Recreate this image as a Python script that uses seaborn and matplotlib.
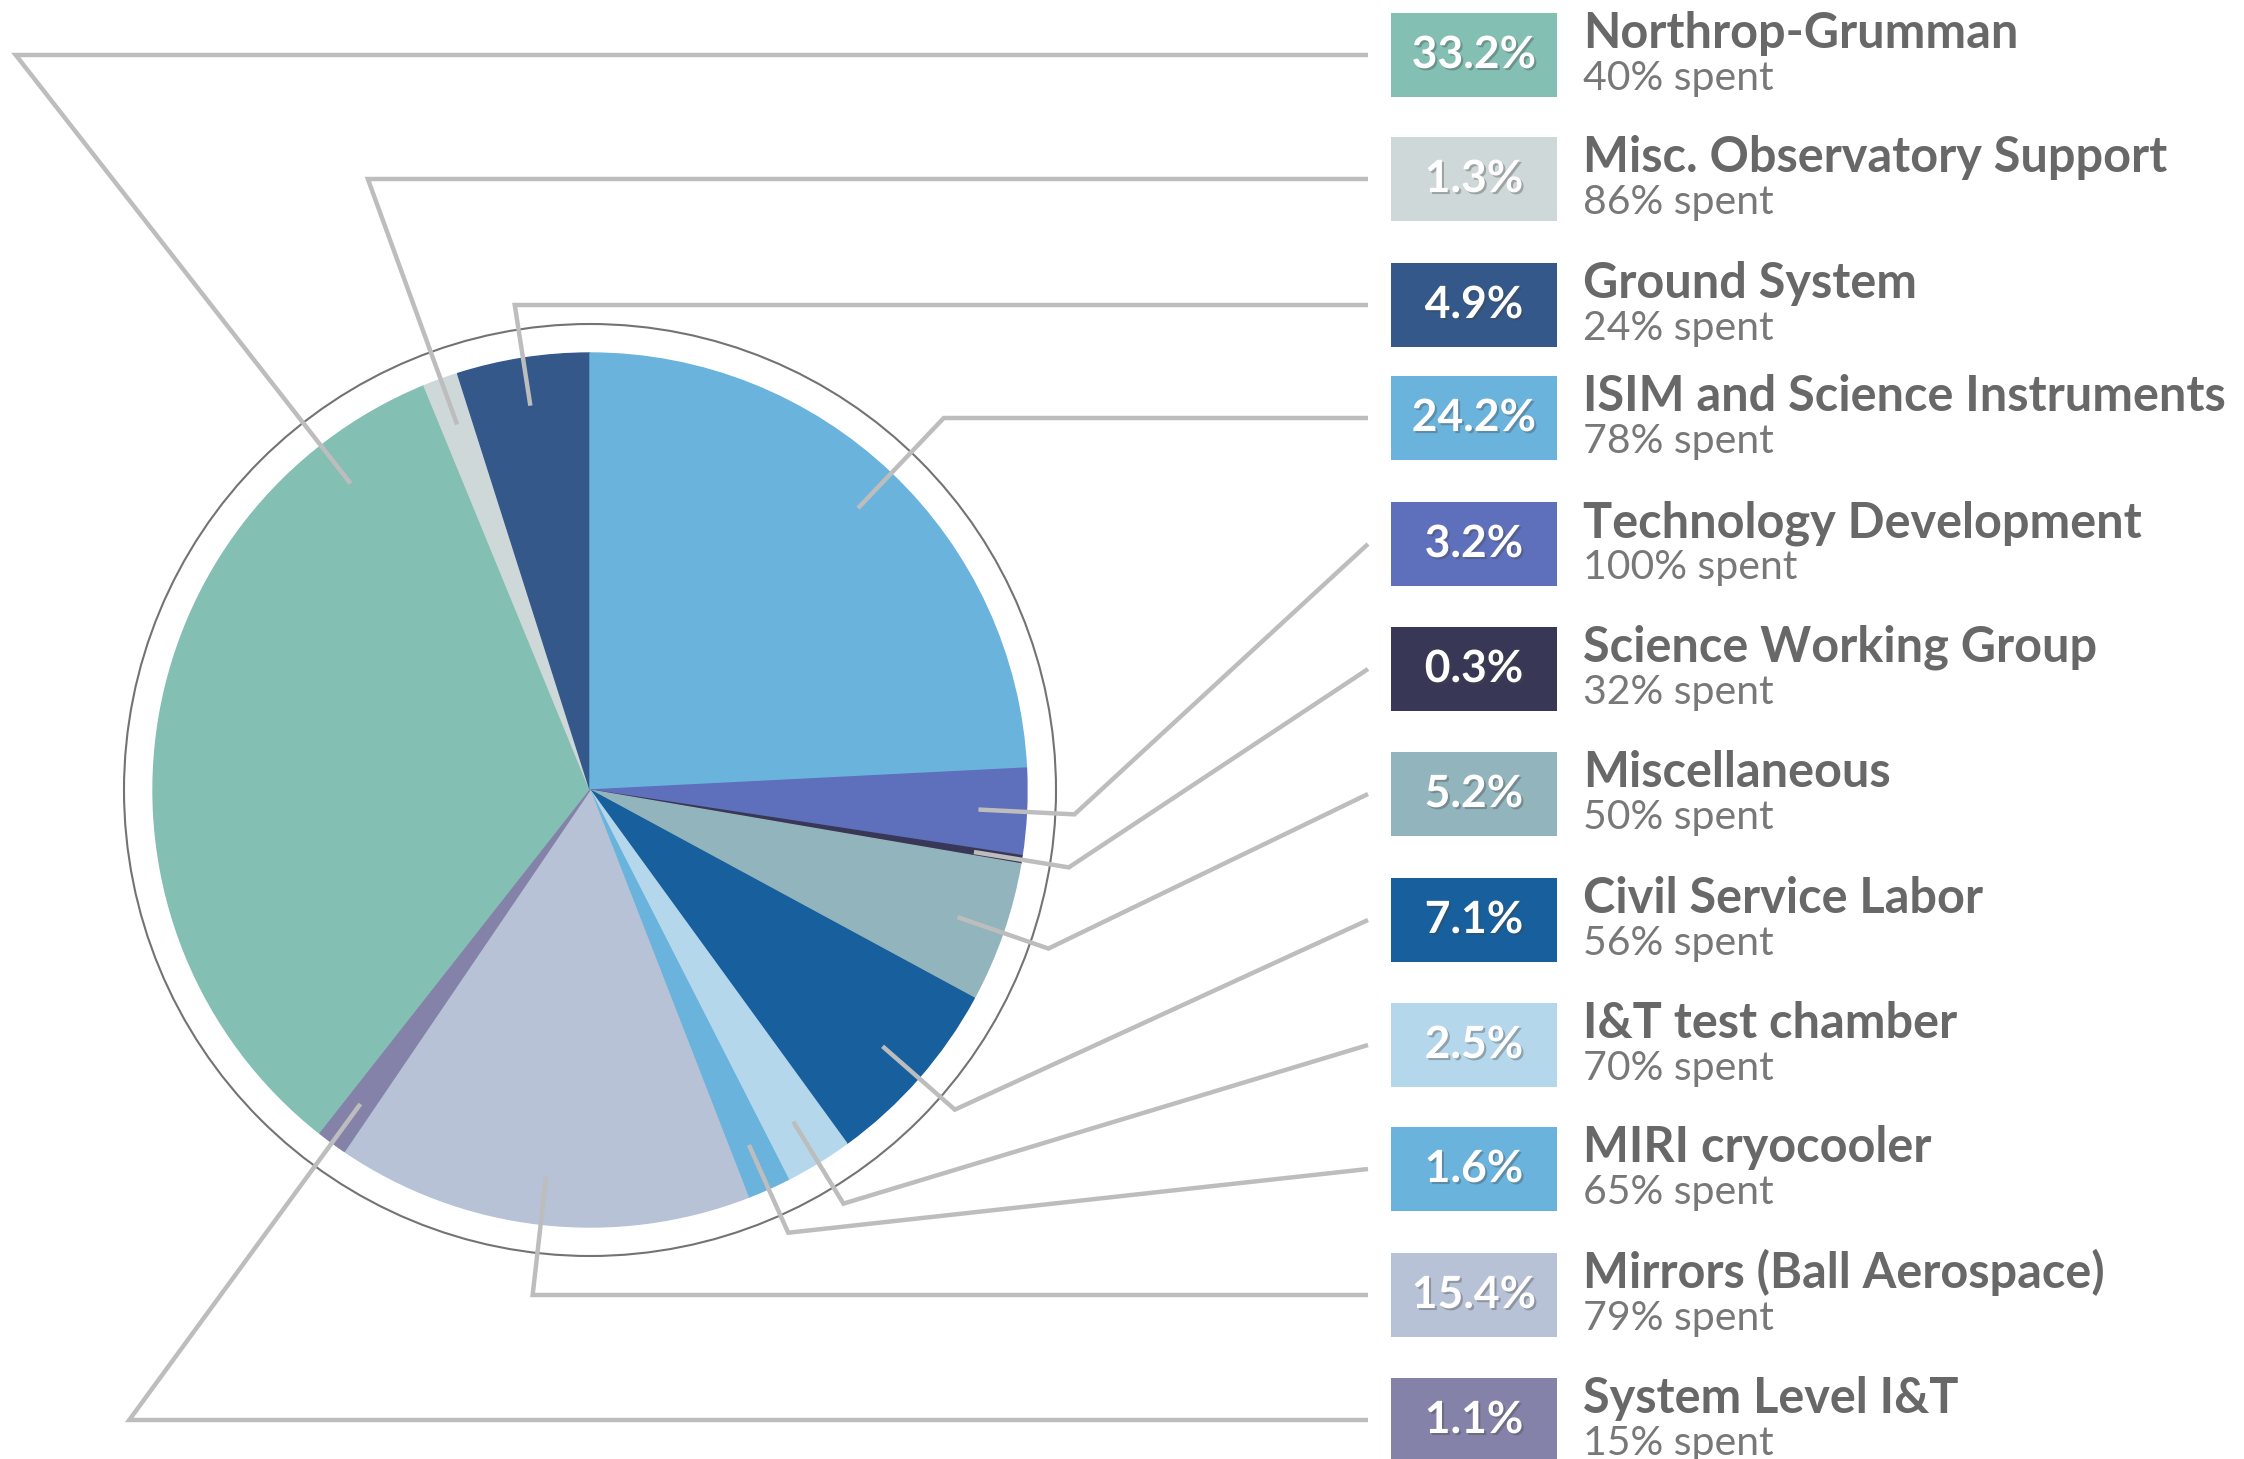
import matplotlib
matplotlib.use('Agg')
import matplotlib.pyplot as plt
import matplotlib.patheffects as pe
from matplotlib.patches import Circle, Rectangle
import numpy as np
import seaborn as sns

sns.set_theme(style='white')
plt.rcParams['font.family'] = ['Lato', 'DejaVu Sans']

# budget elements, in legend order (top to bottom)
names = ['Northrop-Grumman', 'Misc. Observatory Support', 'Ground System',
         'ISIM and Science Instruments', 'Technology Development',
         'Science Working Group', 'Miscellaneous', 'Civil Service Labor',
         'I&T test chamber', 'MIRI cryocooler', 'Mirrors (Ball Aerospace)',
         'System Level I&T']
share = [33.2, 1.3, 4.9, 24.2, 3.2, 0.3, 5.2, 7.1, 2.5, 1.6, 15.4, 1.1]
spent = [40, 86, 24, 78, 100, 32, 50, 56, 70, 65, 79, 15]
colors = ['#84bfb3', '#cfd8d8', '#34588a', '#6ab3dc', '#5e6fbb', '#383856',
          '#92b4bd', '#175f9d', '#b5d7eb', '#6ab3dc', '#b7c2d6', '#8582a9']
palette = sns.color_palette(colors)

# layout (pixels, y measured from the top)
W, H = 2244, 1459
cx, cy, R = 590, H - 790, 437
ring_r = 466
row_y = [55, 179, 305, 418, 544, 669, 794, 920, 1045, 1169, 1295, 1420]
box_x, box_w, box_h = 1391, 166, 84
line_end = 1368
text_x = 1583
anchor_override = {0: 128}  # Northrop leader leaves the wedge up-left
line_col = '#bdbdbd'

fig = plt.figure(figsize=(W / 100, H / 100), dpi=100)
ax = fig.add_axes([0, 0, 1, 1])

# ISIM starts at 12 o'clock, wedges run clockwise
start = 90 + 3.6 * sum(share[:3])
wedges, _ = ax.pie(share, colors=palette, startangle=start, counterclock=False,
                   radius=R, center=(cx, cy), wedgeprops=dict(linewidth=1))
for w in wedges:
    w.set_edgecolor(w.get_facecolor())
ax.add_patch(Circle((cx, cy), ring_r, fill=False, ec='#737373', lw=1.5, zorder=2))

ax.set_xlim(0, W)
ax.set_ylim(0, H)
ax.set_aspect('auto')
ax.axis('off')

### LEADER LINES ###
for i, w in enumerate(wedges):
    ang = np.deg2rad(anchor_override.get(i, (w.theta1 + w.theta2) / 2))
    ux, uy = np.cos(ang), np.sin(ang)
    ry = H - row_y[i]
    x0, y0 = cx + 0.89 * R * ux, cy + 0.89 * R * uy
    t = (ry - cy) / uy if abs(uy) > 1e-6 else -1
    if t >= 1.1 * R:
        pts = [(x0, y0), (cx + t * ux, ry), (line_end, ry)]
    else:
        pts = [(x0, y0), (cx + 1.11 * R * ux, cy + 1.11 * R * uy), (line_end, ry)]
    xs, ys = zip(*pts)
    ax.plot(xs, ys, color=line_col, lw=3.2, solid_joinstyle='miter',
            solid_capstyle='butt', zorder=3)

### LEGEND BOXES ###
shadow = [pe.withSimplePatchShadow(offset=(1.5, -1.5), shadow_rgbFace='#444444', alpha=0.35)]
for i in range(len(names)):
    yc = H - row_y[i]
    ax.add_patch(Rectangle((box_x, yc - box_h / 2), box_w, box_h,
                           fc=palette[i], ec='none', zorder=2))
    ax.text(box_x + box_w / 2, yc, f'{share[i]:.1f}%', ha='center', va='center',
            color='white', fontsize=32, fontweight='bold', path_effects=shadow, zorder=4)
    ax.text(text_x, yc + 7, names[i], ha='left', va='baseline',
            fontsize=35, fontweight='bold', color='#686868')
    ax.text(text_x, yc - 35, f'{spent[i]}% spent', ha='left', va='baseline',
            fontsize=29.5, color='#787878')

fig.savefig('out.png', dpi=100, facecolor='white')
